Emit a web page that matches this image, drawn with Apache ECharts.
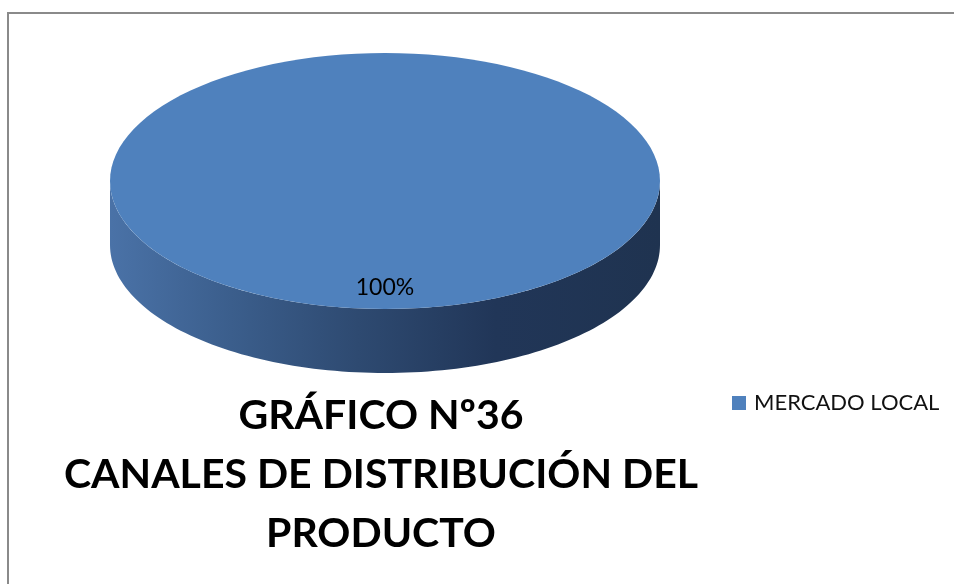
<!DOCTYPE html>
<html lang="es">
<head>
<meta charset="UTF-8">
<title>Gráfico Nº36</title>
<style>
  html, body { margin: 0; padding: 0; background: #fff; }
  #chart { width: 954px; height: 584px; }
</style>
</head>
<body>
<div id="chart"></div>
<script src="https://cdn.jsdelivr.net/npm/echarts@6/dist/echarts.min.js"></script>
<script>
var categorias = ['MERCADO LOCAL'];
var valores = [100];
var titulo = ['GRÁFICO Nº36', 'CANALES DE DISTRIBUCIÓN DEL', 'PRODUCTO'];

var colores = ['#4f81bd'];
var total = valores.reduce(function(a, b) { return a + b; }, 0);
var inicio = [];
var acum = 0;
valores.forEach(function(v) { inicio.push(acum); acum += v; });

// pie 3D geometry
var cx = 385, cy = 181, rx = 275, ry = 128, depth = 64;

function pt(a, k, dy) {
    return [cx + rx * k * Math.sin(a), cy - ry * k * Math.cos(a) + (dy || 0)];
}

function renderItem(params, api) {
    var i = params.dataIndex;
    var v = api.value(0);
    var a0 = inicio[i] / total * 2 * Math.PI;
    var a1 = (inicio[i] + v) / total * 2 * Math.PI;
    var N = 120, n;
    var children = [];

    // lateral (solo la mitad frontal)
    var s0 = Math.max(a0, Math.PI / 2), s1 = Math.min(a1, 3 * Math.PI / 2);
    if (s1 > s0) {
        var lado = [];
        for (n = 0; n <= N; n++) lado.push(pt(s0 + (s1 - s0) * n / N, 1, 0));
        for (n = N; n >= 0; n--) lado.push(pt(s0 + (s1 - s0) * n / N, 1, depth));
        children.push({
            type: 'polygon',
            shape: { points: lado },
            style: {
                fill: new echarts.graphic.LinearGradient(1, 0, 0, 0, [
                    { offset: 0, color: '#1f3350' },
                    { offset: 0.3, color: '#213658' },
                    { offset: 0.55, color: '#2e4a71' },
                    { offset: 0.78, color: '#3b5e8c' },
                    { offset: 1, color: '#4a72a7' }
                ])
            }
        });
    }

    // cara superior
    var sup = [];
    if (a1 - a0 < 2 * Math.PI - 1e-6) sup.push([cx, cy]);
    for (n = 0; n <= N; n++) sup.push(pt(a0 + (a1 - a0) * n / N, 1, 0));
    children.push({
        type: 'polygon',
        shape: { points: sup },
        style: { fill: colores[i % colores.length] }
    });

    // etiqueta
    var lp = pt((a0 + a1) / 2, 0.83, 0);
    children.push({
        type: 'text',
        x: lp[0],
        y: lp[1],
        style: {
            text: Math.round(v / total * 100) + '%',
            align: 'center',
            verticalAlign: 'middle',
            font: '23px Lato',
            fill: '#000'
        }
    });

    return { type: 'group', children: children };
}

var chart = echarts.init(document.getElementById('chart'));
chart.setOption({
    animation: false,
    color: colores,
    title: {
        text: titulo.join('\n'),
        left: 376,
        top: 381,
        textAlign: 'center',
        textStyle: {
            fontFamily: 'Lato',
            fontWeight: 'bold',
            fontSize: 41,
            lineHeight: 59,
            color: '#000'
        }
    },
    legend: {
        data: categorias,
        left: 727,
        top: 387,
        icon: 'rect',
        itemWidth: 14,
        itemHeight: 14,
        textStyle: {
            fontFamily: 'Lato',
            fontSize: 22,
            color: '#111',
            padding: [0, 0, 0, 3]
        }
    },
    graphic: [{
        type: 'rect',
        shape: { x: 8, y: 13, width: 1000, height: 1000 },
        style: { fill: 'none', stroke: '#8a8a8a', lineWidth: 2 },
        silent: true
    }],
    series: [{
        type: 'custom',
        name: categorias[0],
        coordinateSystem: 'none',
        renderItem: renderItem,
        data: valores.map(function(v) { return [v]; })
    }]
});
</script>
</body>
</html>
